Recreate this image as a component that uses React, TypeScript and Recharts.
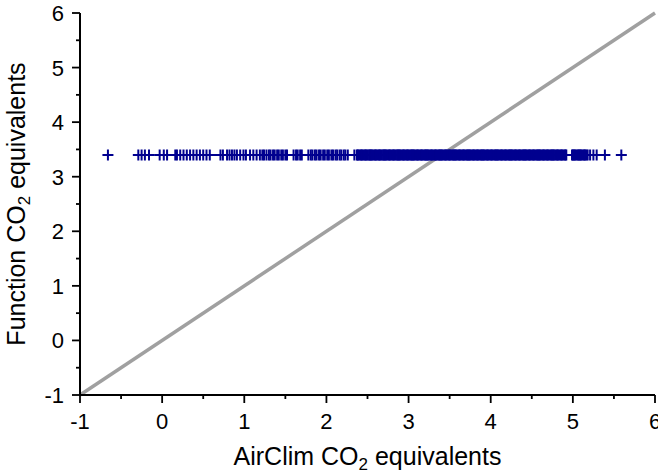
import { ScatterChart, Scatter, XAxis, YAxis, ReferenceLine, Label } from 'recharts';

// AirClim CO2 equivalents (x) of each sample; every sample sits at the same function value
const airclimValues = [
  -0.66,
  -0.29, -0.25, -0.21, -0.16, -0.03, 0.02, 0.06, 0.16, 0.18, 0.22, 0.26, 0.3, 0.34, 0.38,
  0.42, 0.46, 0.5, 0.54, 0.58, 0.71, 0.74, 0.79, 0.82, 0.85, 0.88, 0.91, 0.95, 0.99, 1.02,
  1.07, 1.11, 1.15, 1.19, 1.22, 1.24, 1.27, 1.3, 1.32, 1.35, 1.37, 1.4, 1.42, 1.45, 1.47, 1.5, 1.52,
  1.6, 1.63, 1.65, 1.68, 1.7, 1.78, 1.81, 1.83, 1.86, 1.88, 1.91, 1.93, 1.96, 1.98, 2.01, 2.03, 2.06,
  2.08, 2.11, 2.13, 2.16, 2.18, 2.21, 2.23, 2.26, 2.34,
  2.37, 2.39, 2.42, 2.44, 2.47, 2.49, 2.52, 2.54, 2.56, 2.59, 2.61, 2.64, 2.66, 2.69, 2.71,
  2.73, 2.76, 2.78, 2.81, 2.83, 2.86, 2.88, 2.9, 2.93, 2.95, 2.98, 3.0, 3.03, 3.05, 3.07,
  3.1, 3.12, 3.15, 3.17, 3.2, 3.22, 3.24, 3.27, 3.29, 3.32, 3.34, 3.37, 3.39, 3.41, 3.44,
  3.46, 3.49, 3.51, 3.54, 3.56, 3.58, 3.61, 3.63, 3.66, 3.68, 3.71, 3.73, 3.75, 3.78, 3.8,
  3.83, 3.85, 3.88, 3.9, 3.92, 3.95, 3.97, 4.0, 4.02, 4.05, 4.07, 4.09, 4.12, 4.14, 4.17,
  4.19, 4.22, 4.24, 4.26, 4.29, 4.31, 4.34, 4.36, 4.39, 4.41, 4.43, 4.46, 4.48, 4.51, 4.53,
  4.56, 4.58, 4.6, 4.63, 4.65, 4.68, 4.7, 4.73, 4.75, 4.77, 4.8, 4.82, 4.85, 4.87, 4.9,
  4.92, 4.99, 5.01, 5.03, 5.06, 5.08, 5.1, 5.13, 5.15, 5.18, 5.21, 5.25, 5.29, 5.39, 5.59,
  // more samples inside the crowded 2.4 - 5.2 band
  2.38, 2.405, 2.43, 2.455, 2.48, 2.505, 2.53, 2.55, 2.575, 2.6, 2.625, 2.65, 2.675, 2.7,
  2.72, 2.745, 2.77, 2.795, 2.82, 2.845, 2.87, 2.89, 2.915, 2.94, 2.965, 2.99, 3.015, 3.04,
  3.06, 3.085, 3.11, 3.135, 3.16, 3.185, 3.21, 3.23, 3.255, 3.28, 3.305, 3.33, 3.355, 3.38,
  3.4, 3.425, 3.45, 3.475, 3.5, 3.525, 3.55, 3.57, 3.595, 3.62, 3.645, 3.67, 3.695, 3.72,
  3.74, 3.765, 3.79, 3.815, 3.84, 3.865, 3.89, 3.91, 3.935, 3.96, 3.985, 4.01, 4.035, 4.06,
  4.08, 4.105, 4.13, 4.155, 4.18, 4.205, 4.23, 4.25, 4.275, 4.3, 4.325, 4.35, 4.375, 4.4,
  4.42, 4.445, 4.47, 4.495, 4.52, 4.545, 4.57, 4.59, 4.615, 4.64, 4.665, 4.69, 4.715, 4.74,
  4.76, 4.785, 4.81, 4.835, 4.86, 4.885, 4.91, 5.0, 5.02, 5.045, 5.07, 5.09, 5.115, 5.14, 5.165,
];
const functionValue = 3.4;

const axisTicks = [-1, -0.5, 0, 0.5, 1, 1.5, 2, 2.5, 3, 3.5, 4, 4.5, 5, 5.5, 6];
const domain: [number, number] = [-1, 6];
const diagonal = [{ x: -1, y: -1 }, { x: 6, y: 6 }];

const points = airclimValues.map((x) => ({ x, y: functionValue }));

const FONT = '"Liberation Sans", Arial, Helvetica, sans-serif';
const tickLen = (v: number) => (Number.isInteger(v) ? 8 : 4);

function BottomTick({ x, y, payload }: any) {
  const v = payload.value;
  return (
    <g>
      <line x1={x} x2={x} y1={y} y2={y + tickLen(v)} stroke="#000" strokeWidth={1.8} />
      {Number.isInteger(v) && (
        <text x={x} y={y + 34} textAnchor="middle" fontSize={22} fontFamily={FONT} fill="#000">{v}</text>
      )}
    </g>
  );
}

function TopTick({ x, y, payload }: any) {
  return <line x1={x} x2={x} y1={y} y2={y - tickLen(payload.value)} stroke="#000" strokeWidth={1.8} />;
}

function LeftTick({ x, y, payload }: any) {
  const v = payload.value;
  return (
    <g>
      <line x1={x} x2={x - tickLen(v)} y1={y} y2={y} stroke="#000" strokeWidth={1.8} />
      {Number.isInteger(v) && (
        <text x={x - 16} y={y + 8} textAnchor="end" fontSize={22} fontFamily={FONT} fill="#000">{v}</text>
      )}
    </g>
  );
}

function RightTick({ x, y, payload }: any) {
  return <line x1={x} x2={x + tickLen(payload.value)} y1={y} y2={y} stroke="#000" strokeWidth={1.8} />;
}

function Plus({ cx, cy }: any) {
  return <path d={`M${cx - 5.5},${cy}H${cx + 5.5}M${cx},${cy - 5.5}V${cy + 5.5}`} stroke="#00008f" strokeWidth={2} fill="none" />;
}

const axisLine = { stroke: '#000', strokeWidth: 2 };

export default function App() {
  return (
    <div style={{ position: 'absolute', left: 0, top: 0, background: '#fff' }}>
      <ScatterChart width={658} height={475} margin={{ top: 13, right: 3, bottom: 0, left: 0 }}>
        <XAxis
          type="number" dataKey="x" domain={domain} ticks={axisTicks} interval={0} allowDataOverflow
          height={80} tickSize={0} tickMargin={0} tickLine={false} axisLine={axisLine} tick={<BottomTick />}
        >
          <Label
            content={({ viewBox }: any) => (
              <text x={viewBox.x + viewBox.width / 2} y={viewBox.y + 70} textAnchor="middle" fontSize={25} fontFamily={FONT} fill="#000">
                AirClim CO<tspan dy={5} fontSize={17}>2</tspan><tspan dy={-5}> equivalents</tspan>
              </text>
            )}
          />
        </XAxis>
        <XAxis
          xAxisId="top" orientation="top" type="number" domain={domain} ticks={axisTicks} interval={0}
          height={0} tickSize={0} tickMargin={0} tickLine={false} axisLine={axisLine} tick={<TopTick />}
        />
        <YAxis
          type="number" dataKey="y" domain={domain} ticks={axisTicks} interval={0} allowDataOverflow
          width={80} tickSize={0} tickMargin={0} tickLine={false} axisLine={axisLine} tick={<LeftTick />}
        >
          <Label
            content={({ viewBox }: any) => {
              const cx = 25;
              const cy = viewBox.y + viewBox.height / 2;
              return (
                <text x={cx} y={cy} transform={`rotate(-90, ${cx}, ${cy})`} textAnchor="middle" fontSize={25} fontFamily={FONT} fill="#000">
                  Function CO<tspan dy={5} fontSize={17}>2</tspan><tspan dy={-5}> equivalents</tspan>
                </text>
              );
            }}
          />
        </YAxis>
        <YAxis
          yAxisId="right" orientation="right" type="number" domain={domain} ticks={axisTicks} interval={0}
          width={0} tickSize={0} tickMargin={0} tickLine={false} axisLine={axisLine} tick={<RightTick />}
        />
        <Scatter data={points} shape={<Plus />} isAnimationActive={false} />
        <ReferenceLine segment={diagonal} stroke="#a0a0a0" strokeWidth={3.5} ifOverflow="visible" />
      </ScatterChart>
    </div>
  );
}
